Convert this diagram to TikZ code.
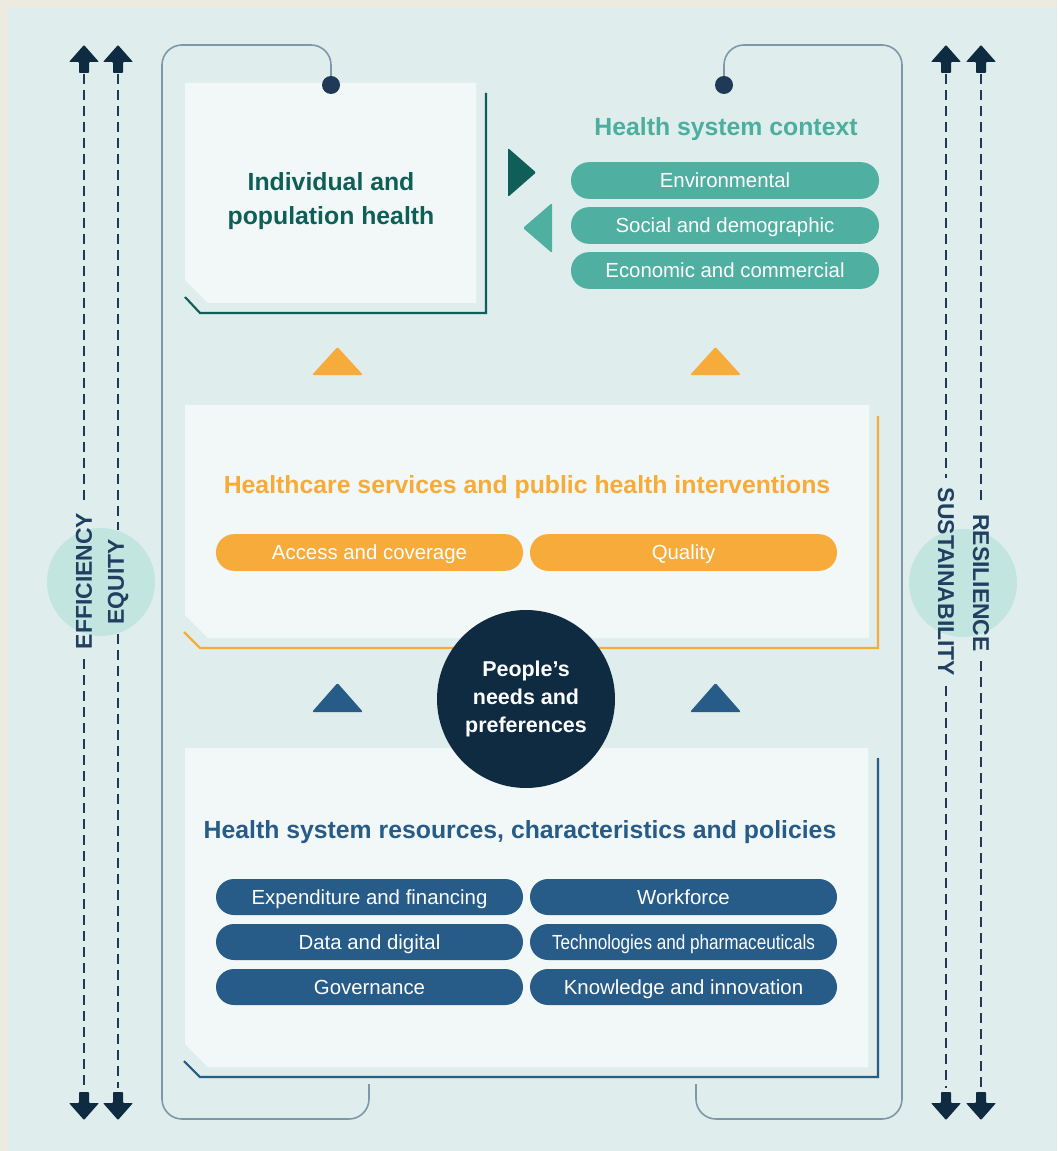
\documentclass[tikz,border=0pt]{standalone}
\usepackage{fontspec}
\setmainfont{Liberation Sans}

% palette
\definecolor{beige}{HTML}{EDEAE0}
\definecolor{panel}{HTML}{DFEEEC}
\definecolor{boxfill}{HTML}{F1F8F7}
\definecolor{framec}{HTML}{7F97A8}
\definecolor{navy}{HTML}{0E2B42}
\definecolor{dashc}{HTML}{1E3A56}
\definecolor{labelc}{HTML}{1F4060}
\definecolor{tealdark}{HTML}{0F5E58}
\definecolor{tealtext}{HTML}{4CAE9E}
\definecolor{teallight}{HTML}{4FAFA1}
\definecolor{orangec}{HTML}{F6AB3A}
\definecolor{bluec}{HTML}{275B88}
\definecolor{mint}{HTML}{C3E5DF}

\newcommand\titlefont{\fontsize{18.6}{25.5}\bfseries\selectfont}
\newcommand\pillfont{\fontsize{15.3}{18}\selectfont}
\newcommand\sidefont{\fontsize{17.2}{20}\bfseries\selectfont}
\newcommand\hubfont{\fontsize{16.1}{21}\bfseries\selectfont}

\begin{document}
\begin{tikzpicture}[x=0.75pt,y=-0.75pt,
  pill/.style={rectangle, rounded corners=13.5pt, minimum width=230.25pt,
    minimum height=27.5pt, inner sep=0pt, text=white, font=\pillfont,
    text height=10.95pt, text depth=0pt},
  boxtitle/.style={font=\titlefont, align=center},
  sidelabel/.style={font=\sidefont, text=labelc, inner xsep=7pt, inner ysep=0pt},
  dashline/.style={draw=dashc, line width=1.5pt, dash pattern=on 7.5pt off 4.5pt},
  framel/.style={draw=framec, line width=1.2pt, rounded corners=15pt},
  outline/.style={line width=1.6pt},
  blockup/.pic={\fill[navy, rounded corners=0.6pt] (0,0) -- (15,17) -- (5,17) -- (5,28)
      -- (-5,28) -- (-5,17) -- (-15,17) -- cycle;},
  blockdown/.pic={\fill[navy, rounded corners=0.6pt] (0,0) -- (15,-17) -- (5,-17) -- (5,-28)
      -- (-5,-28) -- (-5,-17) -- (-15,-17) -- cycle;},
]
\useasboundingbox (0,0) rectangle (1057,1151);
\fill[beige] (0,0) rectangle (1057,1151);
\fill[panel] (8,8) rectangle (1057,1151);

% ---------- side axes ----------
\node[circle, fill=mint, minimum size=81pt, inner sep=0pt] (lcirc) at (101,582) {};
\node[circle, fill=mint, minimum size=81pt, inner sep=0pt] (rcirc) at (963,583) {};

\node[sidelabel, rotate=90] (eff) at (84,581) {EFFICIENCY};
\node[sidelabel, rotate=90] (equ) at (118,582) {EQUITY};
\node[sidelabel, rotate=-90] (sus) at (946,582) {SUSTAINABILITY};
\node[sidelabel, rotate=-90] (res) at (981,583) {RESILIENCE};

\foreach \n/\x in {a/84, b/118, c/946, d/981}{
  \coordinate (top\n) at (\x,74);
  \coordinate (bot\n) at (\x,1088);
  \pic at (\x,45) {blockup};
  \pic at (\x,1120) {blockdown};
}
\draw[dashline] (topa) -- (eff.east);  \draw[dashline] (eff.west) -- (bota);
\draw[dashline] (topb) -- (equ.east);  \draw[dashline] (equ.west) -- (botb);
\draw[dashline] (topc) -- (sus.west);  \draw[dashline] (sus.east) -- (botc);
\draw[dashline] (topd) -- (res.west);  \draw[dashline] (res.east) -- (botd);

% ---------- bracket frames ----------
\coordinate (dotL) at (331,85);
\coordinate (dotR) at (724,85);
\coordinate (endL) at (369,1084);
\coordinate (endR) at (696,1084);
\draw[framel] (dotL) |- (162,45) -- (162,1119) -| (endL);
\draw[framel] (dotR) |- (902,45) -- (902,1119) -| (endR);

% ---------- individual and population health ----------
\fill[boxfill] (185,83) -- (476,83) -- (476,303) -- (208,303) -- (185,280) -- cycle;
\draw[tealdark, outline] (185,297) -- (200,313) -- (486,313) -- (486,93);
\node[boxtitle, text=tealdark] (ind) at (331,201) {Individual and\\population health};

% frame end dots
\fill[dashc] (dotL) circle[radius=9];
\fill[dashc] (dotR) circle[radius=9];

% exchange arrows
\fill[tealdark, rounded corners=1pt] (508,148) -- (536,172.5) -- (508,197) -- cycle;
\fill[teallight, rounded corners=1pt] (552,203) -- (523,228) -- (552,253) -- cycle;

% ---------- health system context ----------
\node[boxtitle, text=tealtext] (ctx) at (726,129) {Health system context};
\node[pill, fill=teallight, minimum width=231pt] (env) at (725,180.5) {Environmental};
\node[pill, fill=teallight, minimum width=231pt] (soc) at (725,225.5) {Social and demographic};
\node[pill, fill=teallight, minimum width=231pt] (eco) at (725,270.5) {Economic and commercial};

% orange arrows up
\fill[orangec, rounded corners=1pt] (312,375) -- (337.5,347) -- (363,375) -- cycle;
\fill[orangec, rounded corners=1pt] (690,375) -- (715.5,347) -- (741,375) -- cycle;

% ---------- services ----------
\fill[boxfill] (185,405) -- (869,405) -- (869,638) -- (208,638) -- (185,615) -- cycle;
\draw[orangec, outline] (184,632) -- (200,648) -- (878,648) -- (878,416);
\node[boxtitle, text=orangec] (serv) at (527,487) {Healthcare services and public health interventions};
\node[pill, fill=orangec] (acc) at (369.5,552.5) {Access and coverage};
\node[pill, fill=orangec] (qual) at (683.5,552.5) {Quality};

% blue arrows up
\fill[bluec, rounded corners=1pt] (312,712) -- (337.5,683) -- (363,712) -- cycle;
\fill[bluec, rounded corners=1pt] (690,712) -- (715.5,683) -- (741,712) -- cycle;

% ---------- resources ----------
\fill[boxfill] (185,748) -- (868,748) -- (868,1067) -- (208,1067) -- (185,1044) -- cycle;
\draw[bluec, outline] (184,1061) -- (200,1077) -- (878,1077) -- (878,758);
\node[boxtitle, text=bluec] (resrc) at (520,832) {Health system resources, characteristics and policies};
\node[pill, fill=bluec, minimum height=27pt] (exp) at (369.5,897) {Expenditure and financing};
\node[pill, fill=bluec, minimum height=27pt] (wf) at (683.5,897) {Workforce};
\node[pill, fill=bluec, minimum height=27pt] (dat) at (369.5,942) {Data and digital};
\node[pill, fill=bluec, minimum height=27pt] (tec) at (683.5,942) {\scalebox{0.84}[1]{Technologies and pharmaceuticals}};
\node[pill, fill=bluec, minimum height=27pt] (gov) at (369.5,987) {Governance};
\node[pill, fill=bluec, minimum height=27pt] (kno) at (683.5,987) {Knowledge and innovation};

% ---------- hub ----------
\node[circle, fill=navy, minimum size=133.5pt, inner sep=0pt, text=white,
      font=\hubfont, align=center] (people) at (526,699) {People’s\\needs and\\preferences};
\end{tikzpicture}
\end{document}
